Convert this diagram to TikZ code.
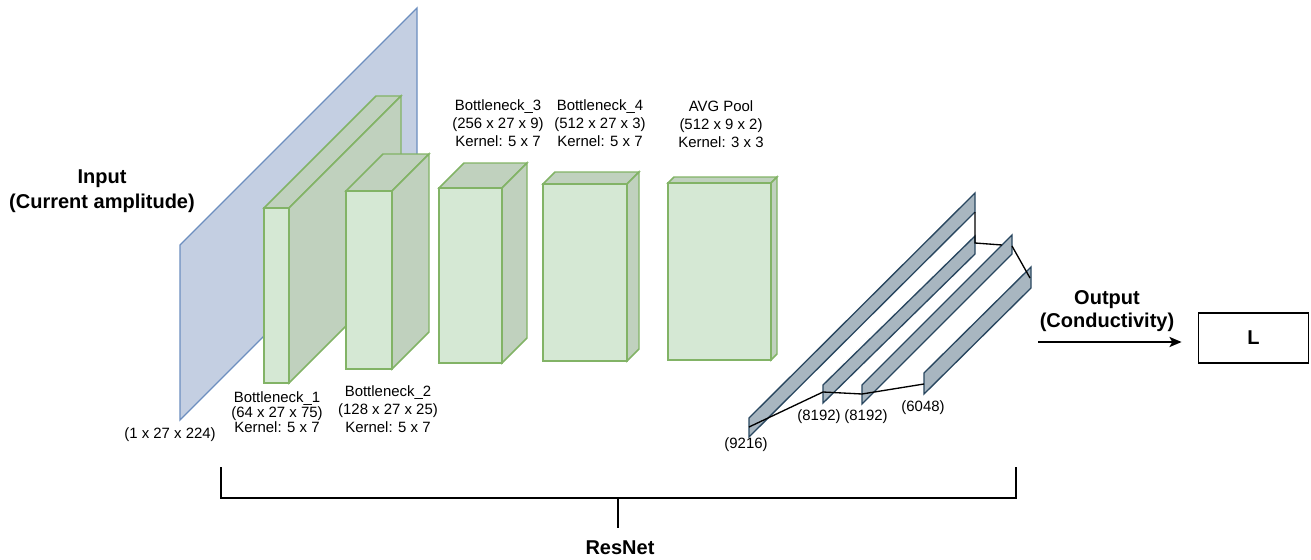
\documentclass[tikz,border=0pt]{standalone}
\usepackage{fontspec}
\setmainfont{Liberation Sans}
\usetikzlibrary{arrows.meta,calc}

\definecolor{planefill}{RGB}{196,207,226}
\definecolor{planeline}{RGB}{108,142,191}
\definecolor{cubefront}{RGB}{213,232,212}
\definecolor{cubeshade}{RGB}{192,209,190}
\definecolor{cubeline}{RGB}{130,179,102}
\definecolor{fcfill}{RGB}{168,182,192}
\definecolor{fcline}{RGB}{40,70,95}

\tikzset{
  cubeface/.style={draw=cubeline, line width=1.1pt, line join=miter},
  planeface/.style={draw=planeline, fill=planefill, line width=1pt},
  fcbar/.style={draw=fcline, fill=fcfill, line width=1pt, line join=miter},
  fclink/.style={draw=black, line width=1pt},
  lbl/.style={font=\fontsize{11.2}{13.6}\selectfont, align=center, inner sep=0pt},
  lbltight/.style={font=\fontsize{11.2}{11}\selectfont, align=center, inner sep=0pt},
  heading/.style={font=\fontsize{15}{18.75}\selectfont\bfseries, align=center, inner sep=0pt},
  bracketline/.style={draw=black, line width=2.2pt},
}

% front face from (x1,y1) to (x2,y2), receding by a given depth at 45 degrees
\newcommand\cuboid[5]{%
  \filldraw[cubeface, fill=cubeshade] (#1,#2) -- (#1+#5,#2-#5) -- (#3+#5,#2-#5) -- (#3,#2) -- cycle;
  \filldraw[cubeface, fill=cubeshade] (#3,#2) -- (#3+#5,#2-#5) -- (#3+#5,#4-#5) -- (#3,#4) -- cycle;
  \filldraw[cubeface, fill=cubefront] (#1,#2) rectangle (#3,#4);
}
% slanted fully connected layer: left top corner, right top corner, thickness
\newcommand\fclayer[5]{%
  \filldraw[fcbar] (#1,#2) -- (#3,#4) -- (#3,#4+#5) -- (#1,#2+#5) -- cycle;
}

\begin{document}
\begin{tikzpicture}[x=0.75pt, y=-0.75pt]
\useasboundingbox (0,0) rectangle (1311,560);

% input plane
\filldraw[planeface] (180,245) -- (417,8) -- (417,183) -- (180,420) -- cycle;

% convolutional stages
\cuboid{264}{208}{289}{383}{112}
\cuboid{346}{191}{392}{369}{37}
\cuboid{439}{188}{502}{363}{25}
\cuboid{543}{184}{627}{361}{12}
\cuboid{668}{183}{771}{360}{6}

% fully connected layers
\fclayer{749}{418}{975}{193}{19}
\fclayer{823}{385}{975}{236}{18}
\fclayer{862}{385}{1012}{235}{19}
\fclayer{924}{373}{1031}{267}{21}

\coordinate (fa) at (749,427);
\coordinate (fb) at (823,392);
\coordinate (fc) at (862,394);
\coordinate (fd) at (924,384);
\coordinate (ga) at (975,212);
\coordinate (gb) at (975,243);
\coordinate (gc) at (1002,245);
\coordinate (gd) at (1012,246);
\coordinate (ge) at (1030,278);
\draw[fclink] (fa) -- (fb) -- (fc) -- (fd);
\draw[fclink] (ga) -- (gb) -- (gc);
\draw[fclink] (gd) -- (ge);

% labels
\node[heading] (inlbl) at (102,191.5) {Input\\(Current amplitude)};
\node[lbl] (insz) at (170,435) {(1 x 27 x 224)};
\node[lbltight] (b1lbl) at (277,412) {Bottleneck\_1\\(64 x 27 x 75)\\Kernel: 5 x 7};
\node[lbl] (b2lbl) at (388,409) {Bottleneck\_2\\(128 x 27 x 25)\\Kernel: 5 x 7};
\node[lbl] (b3lbl) at (498,123.5) {Bottleneck\_3\\(256 x 27 x 9)\\Kernel: 5 x 7};
\node[lbl] (b4lbl) at (600,123.5) {Bottleneck\_4\\(512 x 27 x 3)\\Kernel: 5 x 7};
\node[lbl] (avglbl) at (721,124.5) {AVG Pool\\(512 x 9 x 2)\\Kernel: 3 x 3};
\node[lbl] (f1lbl) at (746,445) {(9216)};
\node[lbl] (f2lbl) at (819,417) {(8192)};
\node[lbl] (f3lbl) at (866,417) {(8192)};
\node[lbl] (f4lbl) at (923,408) {(6048)};

% output
\node[draw=black, line width=0.9pt, minimum width=83pt, minimum height=37.5pt,
      font=\fontsize{15}{18}\selectfont\bfseries] (L) at (1253.5,338) {L};
\coordinate (outstart) at (1038,342);
\draw[line width=1.6pt, -{Stealth[length=9pt, width=7.5pt, inset=2pt]}]
  (outstart) -- ([xshift=-12pt]L.west |- outstart);
\node[heading, font=\fontsize{15}{17.25}\selectfont\bfseries] (outlbl) at (1107,311.5) {Output\\(Conductivity)};

% bracket spanning the network
\coordinate (bl) at (221,467);
\coordinate (br) at (1016,467);
\coordinate (bm) at (618,498);
\coordinate (bs) at (618,528);
\draw[bracketline, line join=miter] (bl) -- (bl |- bm) -- (br |- bm) -- (br);
\draw[bracketline] (bm) -- (bs);
\node[heading] (resnet) at (620,548) {ResNet};
\end{tikzpicture}
\end{document}
